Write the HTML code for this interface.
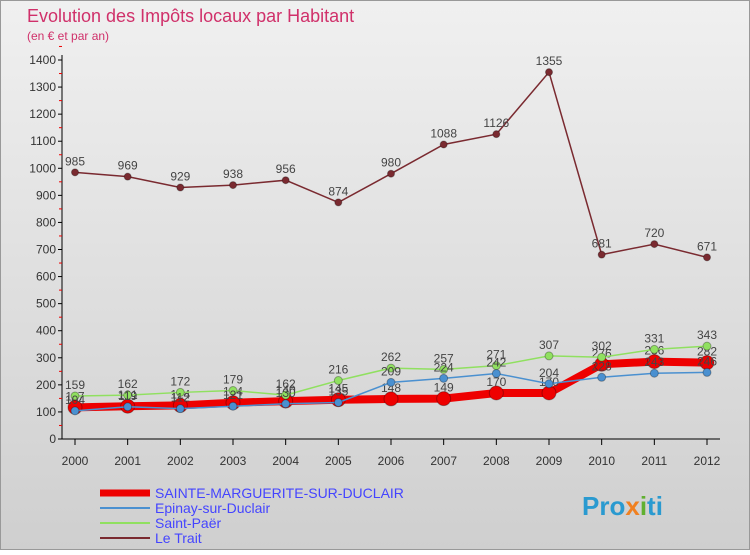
<!DOCTYPE html>
<html><head><meta charset="utf-8"><style>
body{margin:0;width:750px;height:550px;overflow:hidden;font-family:"Liberation Sans",sans-serif}
svg text{font-family:"Liberation Sans",sans-serif}
</style></head><body>
<svg id="c" width="750" height="550">
<defs><linearGradient id="bg" x1="0" y1="0" x2="0" y2="1"><stop offset="0" stop-color="#f0f0f0"/><stop offset="1" stop-color="#cfcfcf"/></linearGradient></defs>
<rect x="0.5" y="0.5" width="749" height="549" fill="url(#bg)" stroke="#999"/>
<text x="27" y="22" font-size="18" fill="#d0306a">Evolution des Impôts locaux par Habitant</text>
<text x="27" y="40" font-size="12" fill="#d0306a">(en € et par an)</text>
<g id="plot"></g>
<g>
<line x1="100" y1="493" x2="150" y2="493" stroke="#e00" stroke-width="7"/><text x="155" y="498" font-size="14" fill="#44f">SAINTE-MARGUERITE-SUR-DUCLAIR</text>
<line x1="100" y1="508" x2="150" y2="508" stroke="#4a90d0" stroke-width="2"/><text x="155" y="513" font-size="14" fill="#44f">Epinay-sur-Duclair</text>
<line x1="100" y1="523" x2="150" y2="523" stroke="#90e060" stroke-width="2"/><text x="155" y="528" font-size="14" fill="#44f">Saint-Paër</text>
<line x1="100" y1="538" x2="150" y2="538" stroke="#7a2a30" stroke-width="2"/><text x="155" y="543" font-size="14" fill="#44f">Le Trait</text>
</g>
<text x="582" y="515" font-size="26" font-weight="bold" fill="#2a9ad0">Pro<tspan fill="#f08020">x</tspan><tspan fill="#60b030">i</tspan>ti</text>
</svg>
<script>
const years=[2000,2001,2002,2003,2004,2005,2006,2007,2008,2009,2010,2011,2012];
const yTicks=[0,100,200,300,400,500,600,700,800,900,1000,1100,1200,1300,1400];
const sainteMarguerite=[117,121,124,134,140,145,148,149,170,170,276,286,282];
const epinay=[104,119,112,121,130,135,209,224,242,204,228,243,246];
const saintPaer=[159,162,172,179,162,216,262,257,271,307,302,331,343];
const leTrait=[985,969,929,938,956,874,980,1088,1126,1355,681,720,671];
const NS='http://www.w3.org/2000/svg';
const g=document.getElementById('plot');
const X=i=>75+i*(707-75)/(years.length-1);
const Y=v=>439-v*(439-60)/1400;
function el(t,a,p){const e=document.createElementNS(NS,t);for(const k in a)e.setAttribute(k,a[k]);(p||g).appendChild(e);return e;}
const ax=el('line',{x1:62,y1:439,x2:62,y2:55,stroke:'#000'});


const bx=el('line',{x1:62,y1:439,x2:720,y2:439,stroke:'#000'});


yTicks.forEach(v=>{
 el('line',{x1:58,y1:Y(v),x2:62,y2:Y(v),stroke:'#000'});
 el('line',{x1:59,y1:Y(v+50),x2:62,y2:Y(v+50),stroke:'#e00'});
 const t=el('text',{x:56,y:Y(v)+4,'font-size':12,'text-anchor':'end',fill:'#333'});t.textContent=v;
 
 
});
years.forEach((y,i)=>{
 el('line',{x1:X(i),y1:439,x2:X(i),y2:445,stroke:'#000'});
 const t=el('text',{x:X(i),y:465,'font-size':12,'text-anchor':'middle',fill:'#333'});t.textContent=y;
 
 
});
function series(data,color,w,r,name){
 const pg=el('g',{});
 
 
 el('polyline',{points:data.map((v,i)=>X(i)+','+Y(v)).join(' '),fill:'none',stroke:color,'stroke-width':w},pg);
 data.forEach((v,i)=>{
  const c=el('circle',{cx:X(i),cy:Y(v),r:r,fill:color,stroke:'rgba(0,0,0,0.3)'},pg);
  
  
  const t=el('text',{x:X(i),y:Y(v)-7,'font-size':12,'text-anchor':'middle',fill:'#444'},pg);t.textContent=v;
  
  
 });
}
series(sainteMarguerite,'#ee0000',8,7,'series-sainte-marguerite');
series(leTrait,'#7a2a30',1.5,3.5,'series-le-trait');
series(saintPaer,'#90e060',1.5,4,'series-saint-paer');
series(epinay,'#4a90d0',1.5,4,'series-epinay');
</script>
</body></html>
